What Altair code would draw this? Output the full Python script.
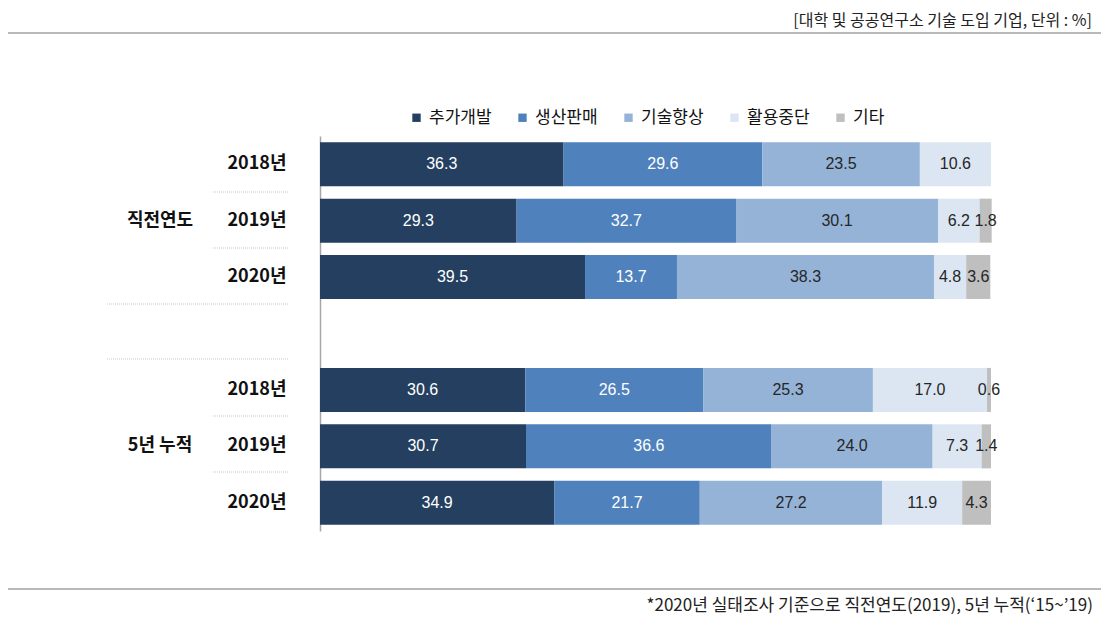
import altair as alt
import pandas as pd

series = ["추가개발", "생산판매", "기술향상", "활용중단", "기타"]
colors = ["#243f60", "#4f81bd", "#95b3d7", "#dce6f2", "#bfbfbf"]
label_colors = ["#ffffff", "#ffffff", "#262626", "#262626", "#262626"]

groups = ["직전연도", "직전연도", "직전연도", "5년 누적", "5년 누적", "5년 누적"]
years = ["2018년", "2019년", "2020년", "2018년", "2019년", "2020년"]
v_dev = [36.3, 29.3, 39.5, 30.6, 30.7, 34.9]
v_sales = [29.6, 32.7, 13.7, 26.5, 36.6, 21.7]
v_tech = [23.5, 30.1, 38.3, 25.3, 24.0, 27.2]
v_stop = [10.6, 6.2, 4.8, 17.0, 7.3, 11.9]
v_etc = [0.0, 1.8, 3.6, 0.6, 1.4, 4.3]

header = "[대학 및 공공연구소 기술 도입 기업, 단위 : %]"
footnote = "*2020년 실태조사 기준으로 직전연도(2019), 5년 누적(‘15~’19)"

keys = [f"{g}|{y}" for g, y in zip(groups, years)]
domain = keys[:3] + ["gap"] + keys[3:]

rows = []
for si, (s, vals) in enumerate(zip(series, [v_dev, v_sales, v_tech, v_stop, v_etc])):
    for k, v in zip(keys, vals):
        rows.append({"key": k, "series": s, "order": si, "value": v,
                     "tcolor": label_colors[si]})
df = pd.DataFrame(rows)

group_df = pd.DataFrame({"key": [keys[1], keys[4]], "group": [groups[1], groups[4]]})

KFONT = "Noto Sans CJK KR"
NFONT = "Liberation Sans"

yscale = alt.Scale(domain=domain, paddingInner=0.22, paddingOuter=0.11)
xscale = alt.Scale(domain=[0, 100], nice=False)

bars = alt.Chart(df).mark_bar().encode(
    y=alt.Y("key:N", scale=yscale, sort=domain,
            axis=alt.Axis(title=None, ticks=False, labelFont=KFONT, labelFontSize=18,
                          labelFontWeight="bold", labelColor="#111111", labelPadding=34,
                          domainColor="#a6a6a6", domainWidth=1.5,
                          labelExpr="indexof(datum.label,'|')>0 ? split(datum.label,'|')[1] : ''")),
    x=alt.X("value:Q", stack="zero", scale=xscale, axis=None),
    color=alt.Color("series:N", scale=alt.Scale(domain=series, range=colors),
                    legend=alt.Legend(title=None, orient="none", direction="horizontal",
                                      legendX=88, legendY=-27, symbolType="square",
                                      symbolSize=70, symbolStrokeWidth=0,
                                      labelFont=KFONT, labelFontSize=17, labelColor="#111111",
                                      columnPadding=22, labelOffset=4)),
    order=alt.Order("order:Q"),
)

labels = alt.Chart(df).transform_stack(
    stack="value", groupby=["key"], as_=["v0", "v1"],
    sort=[alt.SortField("order", order="ascending")]
).transform_filter("datum.value > 0").transform_calculate(
    mid="(datum.v0 + datum.v1) / 2"
).mark_text(font=NFONT, fontSize=16, baseline="middle", align="center").encode(
    y=alt.Y("key:N", scale=yscale, sort=domain),
    x=alt.X("mid:Q", scale=xscale),
    text=alt.Text("value:Q", format=".1f"),
    color=alt.Color("tcolor:N", scale=None),
)

glabels = alt.Chart(group_df).mark_text(font=KFONT, fontSize=18, fontWeight="bold",
                                        align="center", baseline="middle",
                                        color="#111111").encode(
    y=alt.Y("key:N", scale=yscale, sort=domain),
    x=alt.value(-160),
    text="group:N",
)

dummy = pd.DataFrame({"d": [0]})


def hrule(x1, x2, y, color, width=1, dash=None):
    kw = dict(color=color, strokeWidth=width)
    if dash:
        kw["strokeDash"] = dash
    return alt.Chart(dummy).mark_rule(**kw).encode(
        x=alt.value(x1), x2=alt.value(x2), y=alt.value(y))


dots = "#c8c8c8"
seps = [
    hrule(-107, -32, 56, dots, 1, [1, 1]),
    hrule(-107, -32, 112, dots, 1, [1, 1]),
    hrule(-213, -32, 168, dots, 1, [1, 1]),
    hrule(-213, -32, 223, dots, 1, [1, 1]),
    hrule(-107, -32, 280, dots, 1, [1, 1]),
    hrule(-107, -32, 336, dots, 1, [1, 1]),
    hrule(-312, 786, -103, "#a0a0a0", 1.5),
    hrule(-312, 786, 453, "#a0a0a0", 1.5),
]

head = alt.Chart(pd.DataFrame({"t": [header]})).mark_text(
    font=KFONT, fontSize=16, align="right", baseline="middle", color="#222222"
).encode(text="t:N", x=alt.value(772), y=alt.value(-115))

foot = alt.Chart(pd.DataFrame({"t": [footnote]})).mark_text(
    font=KFONT, fontSize=17, align="right", baseline="middle", color="#222222"
).encode(text="t:N", x=alt.value(773), y=alt.value(470))

chart = alt.layer(bars, labels, glabels, *seps, head, foot).properties(
    width=671, height=395,
    autosize=alt.AutoSizeParams(type="none"),
    padding={"left": 312, "top": 128, "right": 110, "bottom": 85},
).configure_view(stroke=None)

chart.save("out.html", embed_options={"renderer": "svg", "actions": False})
